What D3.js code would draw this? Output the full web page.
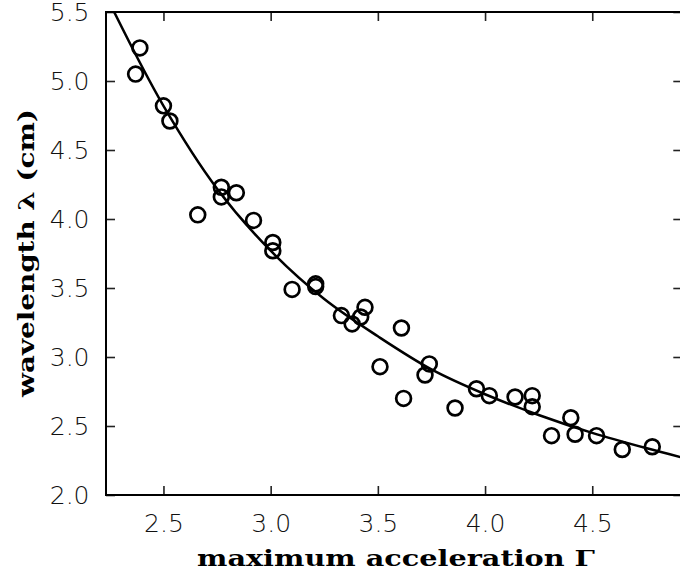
<!DOCTYPE html>
<html>
<head>
<meta charset="utf-8">
<script src="https://cdn.jsdelivr.net/npm/d3@7"></script>
<style>
  body { margin: 0; background: #fff; }
  .tick text { font-family: "DejaVu Sans", sans-serif; font-weight: 200; font-size: 25px; fill: #111; }
  .title { font-family: "DejaVu Serif", serif; font-weight: bold; font-size: 22px; fill: #000; }
</style>
</head>
<body>
<div id="chart"></div>
<script>
// measured points: maximum acceleration (Gamma) vs wavelength (cm)
var gammaVals = [2.37, 2.39, 2.50, 2.53, 2.66, 2.77, 2.77, 2.84, 2.92, 3.01, 3.01,
    3.10, 3.21, 3.21, 3.33, 3.38, 3.42, 3.44, 3.51, 3.61, 3.62, 3.72, 3.74,
    3.86, 3.96, 4.02, 4.14, 4.22, 4.22, 4.31, 4.40, 4.42, 4.52, 4.64, 4.78];
var lambdaVals = [5.05, 5.24, 4.82, 4.71, 4.03, 4.23, 4.16, 4.19, 3.99, 3.83, 3.77,
    3.49, 3.53, 3.51, 3.30, 3.24, 3.29, 3.36, 2.93, 3.21, 2.70, 2.87, 2.95,
    2.63, 2.77, 2.72, 2.71, 2.72, 2.64, 2.43, 2.56, 2.44, 2.43, 2.33, 2.35];

// fitted curve
var fitGamma = [2.27, 2.50, 2.75, 3.00, 3.25, 3.50, 3.75, 4.00, 4.25, 4.50, 4.75, 4.95];
var fitLambda = [5.50, 4.82, 4.22, 3.77, 3.42, 3.15, 2.91, 2.73, 2.58, 2.45, 2.34, 2.26];

var xTicks = [2.5, 3.0, 3.5, 4.0, 4.5];
var yTicks = [2.0, 2.5, 3.0, 3.5, 4.0, 4.5, 5.0, 5.5];

var width = 680, height = 577;
var pLeft = 106, pTop = 12, pRight = 682.3, pBottom = 495;

var svg = d3.select("#chart").append("svg")
    .attr("width", width)
    .attr("height", height);

var x = d3.scaleLinear()
    .domain([2.232, 4.92])
    .range([pLeft, pRight]);

var y = d3.scaleLinear()
    .domain([2.0, 5.5])
    .range([pBottom, pTop]);

var fmt = d3.format(".1f");

// axes, ticks point inward
svg.append("g")
    .attr("transform", "translate(0," + pBottom + ")")
    .call(d3.axisBottom(x).tickValues(xTicks).tickFormat(fmt).tickSizeInner(-9).tickSizeOuter(0).tickPadding(19));

svg.append("g")
    .attr("transform", "translate(" + pLeft + ",0)")
    .call(d3.axisLeft(y).tickValues(yTicks).tickFormat(fmt).tickSizeInner(-9).tickSizeOuter(0).tickPadding(16.5));

svg.append("g")
    .attr("transform", "translate(0," + pTop + ")")
    .call(d3.axisTop(x).tickValues(xTicks).tickFormat("").tickSizeInner(-9).tickSizeOuter(0));

svg.append("g")
    .attr("transform", "translate(" + pRight + ",0)")
    .call(d3.axisRight(y).tickValues(yTicks).tickFormat("").tickSizeInner(-9).tickSizeOuter(0));

svg.selectAll(".domain").remove();
svg.selectAll(".tick line").attr("stroke", "#222").attr("stroke-width", 1.6);

// frame
svg.append("rect")
    .attr("x", pLeft)
    .attr("y", pTop)
    .attr("width", pRight - pLeft)
    .attr("height", pBottom - pTop)
    .attr("fill", "none")
    .attr("stroke", "#000")
    .attr("stroke-width", 2);

svg.append("clipPath")
    .attr("id", "plotclip")
    .append("rect")
    .attr("x", pLeft)
    .attr("y", pTop)
    .attr("width", pRight - pLeft)
    .attr("height", pBottom - pTop);

var fit = fitGamma.map(function (g, i) { return [g, fitLambda[i]]; });

svg.append("path")
    .datum(fit)
    .attr("clip-path", "url(#plotclip)")
    .attr("fill", "none")
    .attr("stroke", "#000")
    .attr("stroke-width", 2.5)
    .attr("d", d3.line()
        .x(function (d) { return x(d[0]); })
        .y(function (d) { return y(d[1]); })
        .curve(d3.curveCatmullRom));

var pts = gammaVals.map(function (g, i) { return [g, lambdaVals[i]]; });

svg.append("g")
    .selectAll("circle")
    .data(pts)
    .enter().append("circle")
    .attr("cx", function (d) { return x(d[0]); })
    .attr("cy", function (d) { return y(d[1]); })
    .attr("r", 7.4)
    .attr("fill", "none")
    .attr("stroke", "#000")
    .attr("stroke-width", 2.7);

// axis titles
svg.append("text")
    .attr("class", "title")
    .attr("x", 396)
    .attr("y", 566)
    .attr("text-anchor", "middle")
    .attr("textLength", 398)
    .attr("lengthAdjust", "spacingAndGlyphs")
    .text("maximum acceleration Γ");

svg.append("text")
    .attr("class", "title")
    .attr("transform", "translate(34,253) rotate(-90)")
    .attr("text-anchor", "middle")
    .attr("textLength", 288)
    .attr("lengthAdjust", "spacingAndGlyphs")
    .text("wavelength λ (cm)");
</script>
</body>
</html>
